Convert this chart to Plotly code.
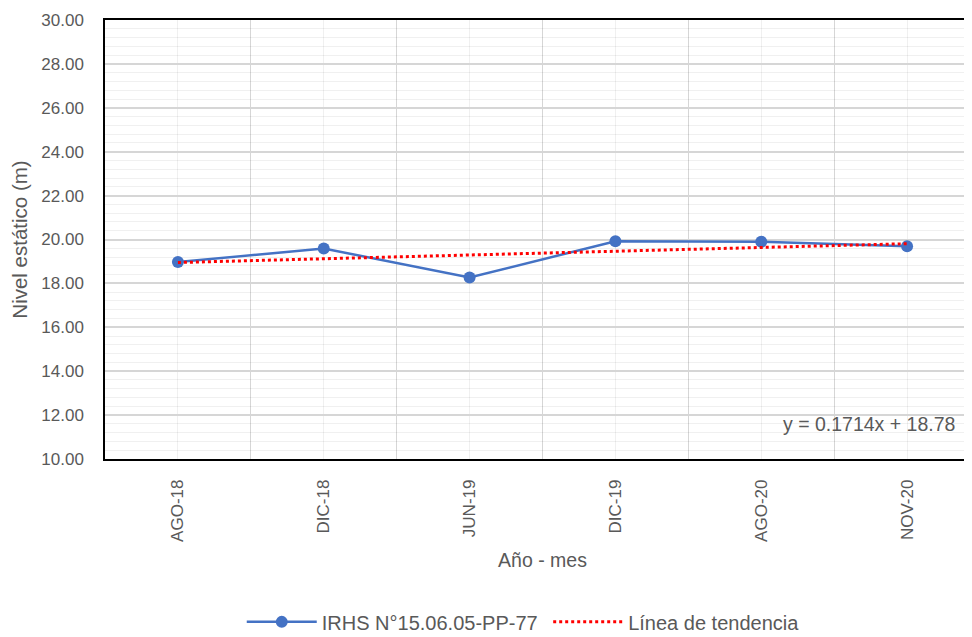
import plotly.graph_objects as go

categories = ["AGO-18", "DIC-18", "JUN-19", "DIC-19", "AGO-20", "NOV-20"]
nivel = [18.97, 19.59, 18.27, 19.92, 19.90, 19.69]
series_name = "IRHS N°15.06.05-PP-77"
trend_name = "Línea de tendencia"
trend_slope = 0.1714
trend_intercept = 18.78
y_ticks = [10, 12, 14, 16, 18, 20, 22, 24, 26, 28, 30]

FONT = "Liberation Sans, Arial, sans-serif"
GREY = "#595959"
LIGHT = "rgba(0,0,0,0.06)"
DARK = "#d6d6d6"

xpos = list(range(len(categories)))
trend = [trend_slope * (i + 1) + trend_intercept for i in xpos]

fig = go.Figure()
fig.add_trace(go.Scatter(
    x=xpos, y=nivel, mode="lines+markers", name=series_name + "\u00a0",
    line=dict(color="#4472C4", width=2.5),
    marker=dict(color="#4472C4", size=12),
))
fig.add_trace(go.Scatter(
    x=xpos, y=trend, mode="lines", name=trend_name,
    line=dict(color="#FF0000", width=3, dash="dot"),
))

fig.add_annotation(
    x=1, xref="paper", xanchor="right", xshift=-23,
    y=11.6, yref="y", yanchor="middle",
    text=f"y = {trend_slope}x + {trend_intercept}",
    showarrow=False, font=dict(family=FONT, size=19.5, color=GREY),
)

fig.update_layout(
    width=972, height=637,
    margin=dict(l=97, r=0, t=11.5, b=186),
    paper_bgcolor="white", plot_bgcolor="white",
    font=dict(family=FONT, color=GREY, size=18),
    showlegend=True,
    legend=dict(orientation="h", x=0.478, xanchor="center", y=-0.371, yanchor="middle",
                font=dict(family=FONT, size=20, color=GREY), itemwidth=70,
                traceorder="normal"),
)
fig.update_xaxes(
    range=[-0.5, 5.5], tickmode="array", tickvals=xpos, ticktext=categories,
    tickangle=-90, tickfont=dict(family=FONT, size=17, color=GREY),
    showgrid=True, gridcolor=LIGHT, gridwidth=1.3,
    minor=dict(tickmode="array", tickvals=[i - 0.5 for i in range(len(categories) + 1)],
               showgrid=True, gridcolor=DARK, gridwidth=1.3),
    showline=True, linecolor="black", linewidth=1.5, mirror=True,
    zeroline=False, ticks="", ticklabelstandoff=12, automargin=False,
    title=dict(text="Año - mes", font=dict(family=FONT, size=19.5, color=GREY), standoff=12),
)
fig.update_yaxes(
    range=[10, 30], tickmode="array", tickvals=y_ticks,
    ticktext=[f"{v:.2f}" for v in y_ticks],
    tickfont=dict(family=FONT, size=17, color=GREY),
    showgrid=True, gridcolor=DARK, gridwidth=1.5,
    minor=dict(dtick=0.4, tick0=10, showgrid=True, gridcolor=LIGHT, gridwidth=1.3),
    showline=True, linecolor="black", linewidth=1.5, mirror=True,
    zeroline=False, ticks="", ticklabelstandoff=16, automargin=False,
    title=dict(text="Nivel estático (m)", font=dict(family=FONT, size=20.5, color=GREY), standoff=11),
)

fig.write_html("out.html")
